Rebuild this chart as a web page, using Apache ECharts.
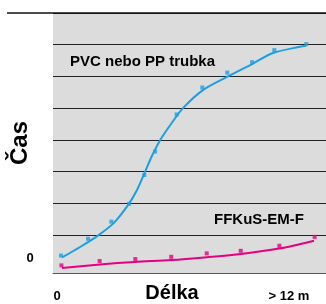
<!DOCTYPE html>
<html>
<head>
<meta charset="utf-8">
<script src="https://cdn.jsdelivr.net/npm/echarts@6/dist/echarts.min.js"></script>
<style>
  html, body { margin: 0; padding: 0; background: #fff; }
  #main { width: 326px; height: 304px; }
</style>
</head>
<body>
<div id="main"></div>
<script>
// délka (m) / čas (dílky mřížky)
var pvcLine = [[0.43,0.49],[1.29,0.82],[2.14,1.18],[2.90,1.58],[3.57,2.14],[4.00,2.62],[4.38,3.19],[4.71,3.69],
               [5.10,4.19],[5.62,4.70],[6.19,5.20],[7.14,5.77],[8.33,6.20],[9.48,6.59],[10.48,6.94],[12.05,7.17]];
var pvcPoints = [[0.38,0.55],[1.67,1.08],[2.78,1.62],[3.62,2.18],[4.35,3.09],[4.86,3.83],
                 [5.89,5.00],[7.11,5.85],[8.30,6.32],[9.48,6.65],[10.54,7.03],[12.06,7.22]];
var ffkLine = [[0.43,0.16],[2.24,0.27],[3.90,0.35],[5.62,0.41],[7.33,0.50],[8.95,0.60],[10.76,0.77],[12.43,1.02]];
var ffkPoints = [[0.40,0.24],[2.22,0.38],[3.92,0.44],[5.63,0.51],[7.32,0.62],[8.94,0.70],[10.78,0.86],[12.46,1.14]];

var myChart = echarts.init(document.getElementById('main'), null, {renderer: 'canvas'});

var blue = '#1b9fe0';
var pink = '#e4007f';
var font = '"Liberation Sans", Arial, sans-serif';

var option = {
    animation: false,
    grid: [
        {left: 53, right: 0, top: 14, bottom: 31, show: true, backgroundColor: '#dcdcdc', borderWidth: 0},
        {left: 53, right: 0, top: 13, bottom: 69, show: false}
    ],
    xAxis: [
        {
            type: 'value', gridIndex: 0, min: 0, max: 13,
            axisLine: {show: true, onZero: false, lineStyle: {color: '#555', width: 1}},
            axisTick: {show: false}, axisLabel: {show: false}, splitLine: {show: false}
        },
        {type: 'value', gridIndex: 1, min: 0, max: 1, show: false}
    ],
    yAxis: [
        {type: 'value', gridIndex: 0, min: 0, max: 8.17, show: false, splitLine: {show: false}},
        {
            type: 'value', gridIndex: 1, min: 0, max: 7, interval: 1,
            axisLine: {show: false}, axisTick: {show: false}, axisLabel: {show: false},
            splitLine: {show: true, lineStyle: {color: '#222', width: 1}}//mřížka
        }
    ],
    graphic: [
        {type: 'line', shape: {x1: 7, y1: 13, x2: 326, y2: 13}, style: {stroke: '#111', lineWidth: 1.5}, z: 10},
        {type: 'text', style: {text: 'PVC nebo PP trubka', x: 70, y: 62, font: 'bold 15px ' + font, fill: '#000', align: 'left', verticalAlign: 'middle'}, z: 10},
        {type: 'text', style: {text: 'FFKuS-EM-F', x: 214, y: 220, font: 'bold 15px ' + font, fill: '#000', align: 'left', verticalAlign: 'middle'}, z: 10},
        {type: 'text', x: 20, y: 143, rotation: Math.PI / 2, style: {text: 'Čas', x: 0, y: 0, font: 'bold 24px ' + font, fill: '#000', align: 'center', verticalAlign: 'middle'}, z: 10},
        {type: 'text', style: {text: '0', x: 30, y: 258, font: 'bold 13px ' + font, fill: '#000', align: 'center', verticalAlign: 'middle'}, z: 10},
        {type: 'text', style: {text: '0', x: 57, y: 296, font: 'bold 13px ' + font, fill: '#000', align: 'center', verticalAlign: 'middle'}, z: 10},
        {type: 'text', style: {text: 'Délka', x: 172, y: 293, font: 'bold 20px ' + font, fill: '#000', align: 'center', verticalAlign: 'middle'}, z: 10},
        {type: 'text', style: {text: '> 12 m', x: 289, y: 296, font: 'bold 13px ' + font, fill: '#000', align: 'center', verticalAlign: 'middle'}, z: 10}
    ],
    series: [
        {
            name: 'PVC nebo PP trubka', type: 'line', data: pvcLine, smooth: 0.3,
            symbol: 'none', clip: false,
            lineStyle: {color: blue, width: 2}
        },
        {
            name: 'PVC body', type: 'scatter', data: pvcPoints,
            symbol: 'rect', symbolSize: 4, itemStyle: {color: blue}
        },
        {
            name: 'FFKuS-EM-F', type: 'line', data: ffkLine, smooth: 0.3,
            symbol: 'none', clip: false,
            lineStyle: {color: pink, width: 2}
        },
        {
            name: 'FFKuS body', type: 'scatter', data: ffkPoints,
            symbol: 'rect', symbolSize: 4, itemStyle: {color: pink}
        }
    ]
};

myChart.setOption(option);
</script>
</body>
</html>
